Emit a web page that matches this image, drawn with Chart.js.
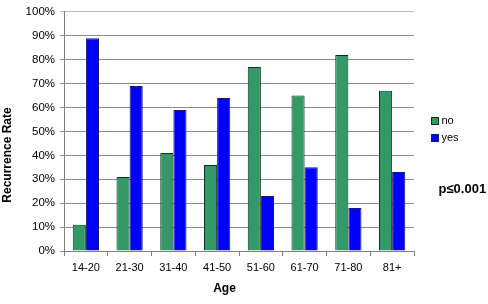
<!DOCTYPE html>
<html>
<head>
<meta charset="utf-8">
<script src="https://cdn.jsdelivr.net/npm/chart.js@4/dist/chart.umd.min.js"></script>
<style>
  html, body { margin: 0; padding: 0; background: #fff; }
  #wrap { width: 488px; height: 304px; }
</style>
</head>
<body>
<div id="wrap"><canvas id="chart" width="488" height="304"></canvas></div>
<script>
const ageGroups = ["14-20", "21-30", "31-40", "41-50", "51-60", "61-70", "71-80", "81+"];
const noValues = [11, 31, 41, 36, 77, 65, 82, 67];
const yesValues = [89, 69, 59, 64, 23, 35, 18, 33];
const seriesNames = ["no", "yes"];
const pValueText = "p\u22640.001";

const FONT = "'Liberation Sans', Arial, sans-serif";
Chart.defaults.font.family = FONT;

const colors = {
  no: "#339966",
  noBorder: "#0d3320",
  yes: "#0000ff",
  yesBorder: "#1a1a66",
};

// legend, axis titles and p-value, drawn by hand to sit where the original has them
const extras = {
  id: "extras",
  afterDraw(chart) {
    const ctx = chart.ctx;
    ctx.save();
    ctx.fillStyle = "#000";
    ctx.font = "bold 12px " + FONT;
    ctx.textAlign = "center";
    ctx.textBaseline = "middle";
    ctx.fillText("Age", 224.5, 289);
    ctx.translate(8, 155);
    ctx.rotate(-Math.PI / 2);
    ctx.fillText("Recurrence Rate", 0, 0);
    ctx.restore();

    ctx.save();
    ctx.font = "11px " + FONT;
    ctx.textBaseline = "middle";
    chart.data.datasets.forEach((ds, i) => {
      const y = 121 + i * 17;
      ctx.fillStyle = ds.backgroundColor;
      ctx.fillRect(431.5, y - 3.5, 7, 7);
      ctx.strokeStyle = ds.borderColor;
      ctx.lineWidth = 1;
      ctx.strokeRect(431.5, y - 3.5, 7, 7);
      ctx.fillStyle = "#000";
      ctx.textAlign = "left";
      ctx.fillText(ds.label, 441.5, y);
    });
    ctx.font = "bold 13px " + FONT;
    ctx.fillText(pValueText, 438.5, 189.5);
    ctx.restore();
  },
};

new Chart(document.getElementById("chart"), {
  type: "bar",
  data: {
    labels: ageGroups,
    datasets: [
      {
        label: seriesNames[0],
        data: noValues,
        backgroundColor: colors.no,
        borderColor: colors.noBorder,
        borderWidth: 1,
        categoryPercentage: 0.6,
        barPercentage: 1.0,
      },
      {
        label: seriesNames[1],
        data: yesValues,
        backgroundColor: colors.yes,
        borderColor: colors.yesBorder,
        borderWidth: 1,
        categoryPercentage: 0.6,
        barPercentage: 1.0,
      },
    ],
  },
  options: {
    responsive: false,
    animation: false,
    maintainAspectRatio: false,
    layout: { padding: { top: 7, right: 74, bottom: 0, left: 0 } },
    scales: {
      x: {
        afterFit: (s) => { s.height = 53; },
        ticks: {
          font: { size: 11 },
          color: "#000",
          padding: 5,
          maxRotation: 0,
        },
        grid: {
          offset: true,
          drawOnChartArea: false,
          tickLength: 5,
          color: "#808080",
        },
        border: { color: "#808080" },
      },
      y: {
        min: 0,
        max: 100,
        afterFit: (s) => { s.width = 64; },
        ticks: {
          stepSize: 10,
          font: { size: 11.5 },
          color: "#000",
          padding: 5,
          callback: (v) => v + "%",
        },
        grid: {
          color: (c) => (c.tick && c.tick.value === 100 ? "#bdbdbd" : "#8c8c8c"),
          tickLength: 4,
        },
        border: { color: "#808080" },
      },
    },
    plugins: {
      legend: { display: false },
      tooltip: { enabled: false },
    },
  },
  plugins: [extras],
});
</script>
</body>
</html>
